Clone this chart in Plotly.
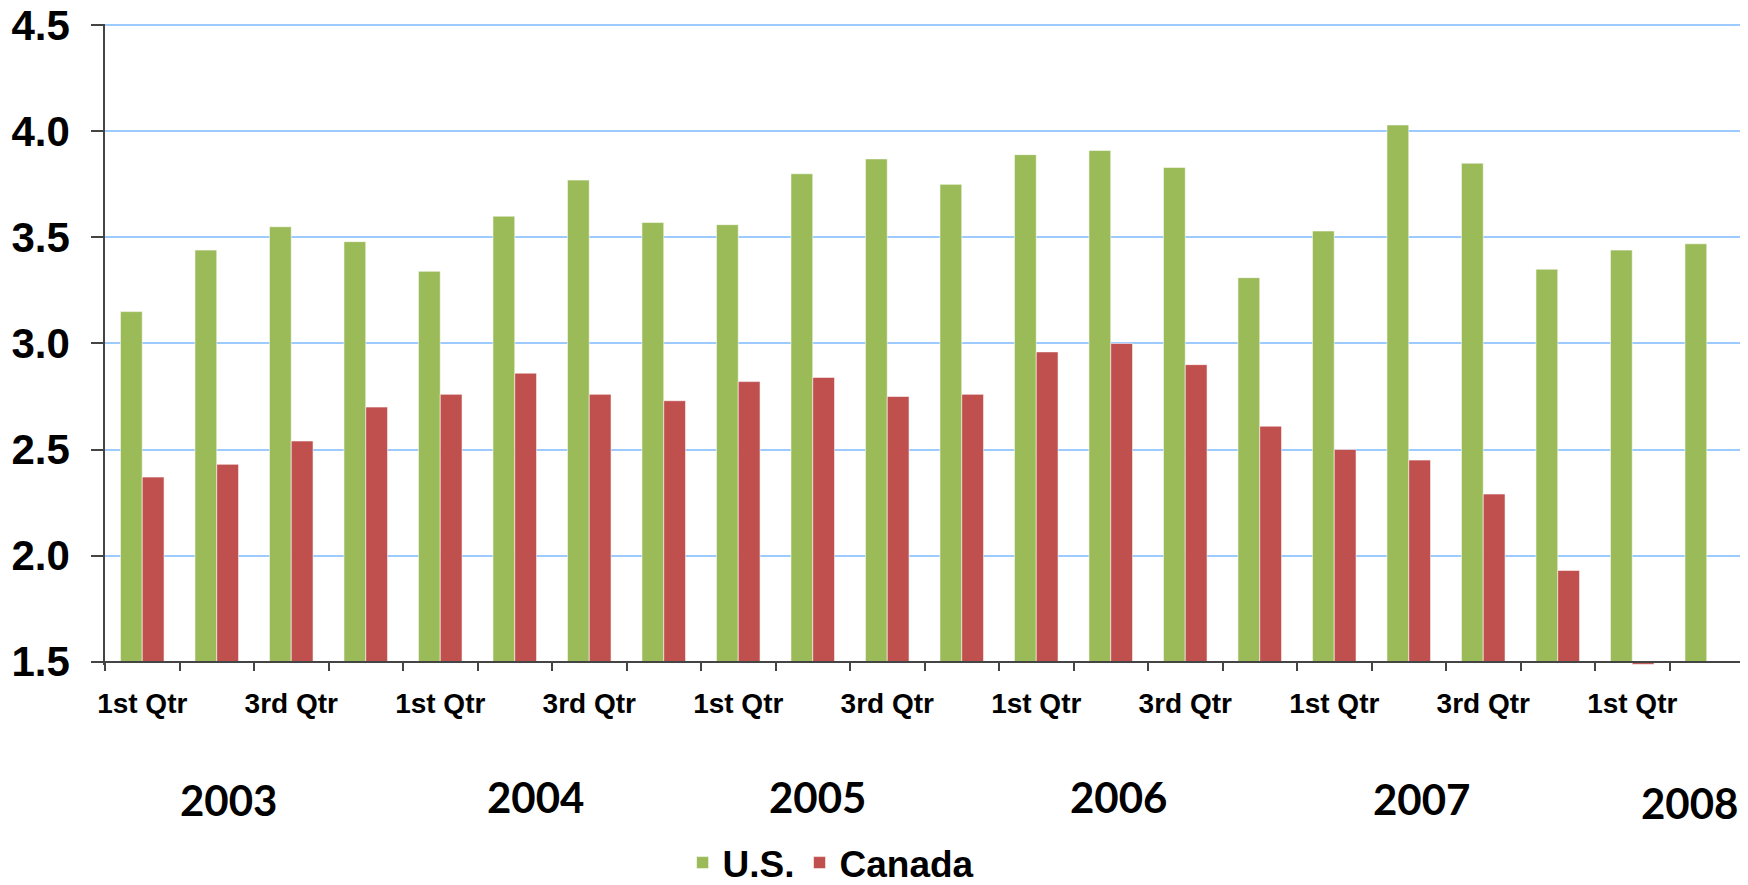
import plotly.graph_objects as go

# ---- data ----
quarters = ["2003 Q1", "2003 Q2", "2003 Q3", "2003 Q4",
            "2004 Q1", "2004 Q2", "2004 Q3", "2004 Q4",
            "2005 Q1", "2005 Q2", "2005 Q3", "2005 Q4",
            "2006 Q1", "2006 Q2", "2006 Q3", "2006 Q4",
            "2007 Q1", "2007 Q2", "2007 Q3", "2007 Q4",
            "2008 Q1", "2008 Q2"]
quarter_labels = ["1st Qtr", "", "3rd Qtr", ""] * 5 + ["1st Qtr", ""]
us = [3.15, 3.44, 3.55, 3.48, 3.34, 3.60, 3.77, 3.57, 3.56, 3.80, 3.87,
      3.75, 3.89, 3.91, 3.83, 3.31, 3.53, 4.03, 3.85, 3.35, 3.44, 3.47]
canada = [2.37, 2.43, 2.54, 2.70, 2.76, 2.86, 2.76, 2.73, 2.82, 2.84, 2.75,
          2.76, 2.96, 3.00, 2.90, 2.61, 2.50, 2.45, 2.29, 1.93, 1.487, None]
years = ["2003", "2004", "2005", "2006", "2007", "2008"]
year_x = [0.0751, 0.2624, 0.4345, 0.6181, 0.8030, 0.9666]
year_y = [-0.210, -0.206, -0.206, -0.206, -0.209, -0.215]

y_axis_base = 1.5
y_min, y_max = 1.484, 4.506

GREEN = "#9BBB59"
RED = "#C0504D"


def lengths(vals):
    return [None if v is None else v - y_axis_base for v in vals]


fig = go.Figure()
fig.add_trace(go.Bar(
    name="U.S.", x=quarters, y=lengths(us), base=y_axis_base,
    marker=dict(color=GREEN, line=dict(color="rgba(255,255,255,0.55)", width=1)),
    customdata=us, hovertemplate="%{x}: %{customdata}<extra>U.S.</extra>",
))
fig.add_trace(go.Bar(
    name="Canada", x=quarters, y=lengths(canada), base=y_axis_base,
    marker=dict(color=RED, line=dict(color="rgba(255,255,255,0.55)", width=1)),
    customdata=canada, hovertemplate="%{x}: %{customdata}<extra>Canada</extra>",
))

for t, xx, yy in zip(years, year_x, year_y):
    fig.add_annotation(text=t, x=xx, y=yy, xref="paper", yref="paper",
                       showarrow=False, xanchor="center", yanchor="middle",
                       font=dict(family="Lato, Open Sans", size=42,
                                 color="black", weight="bold"))

fig.update_layout(
    width=1748, height=885,
    margin=dict(l=97, r=12, t=16, b=228, autoexpand=False),
    paper_bgcolor="white", plot_bgcolor="white",
    barmode="group", bargap=0.415, bargroupgap=0,
    showlegend=True,
    legend=dict(orientation="h", x=0.443, xanchor="center", y=-0.309,
                yanchor="middle", itemwidth=30,
                font=dict(family="Liberation Sans, Arial", size=37,
                          color="black", weight="bold")),
    xaxis=dict(
        type="category", automargin=False,
        tickmode="array", tickvals=quarters, ticktext=quarter_labels,
        tickson="boundaries", ticks="outside", ticklen=9, tickwidth=1.5,
        tickcolor="#444", showgrid=False, tickangle=0,
        showline=True, linecolor="#444", linewidth=1.5,
        anchor="free",
        position=(y_axis_base - y_min) / (y_max - y_min),
        ticklabelstandoff=17, ticklabeloverflow="allow",
        tickfont=dict(family="Liberation Sans, Arial", size=28,
                      color="black", weight="bold"),
    ),
    yaxis=dict(
        automargin=False,
        range=[y_min, y_max], tickmode="array",
        tickvals=[1.5, 2.0, 2.5, 3.0, 3.5, 4.0, 4.5],
        ticktext=["1.5", "2.0", "2.5", "3.0", "3.5", "4.0", "4.5"],
        ticks="outside", ticklen=12, tickwidth=1.5, tickcolor="#444",
        showgrid=True, gridcolor="#9DCBFF", gridwidth=2,
        showline=True, linecolor="#444", linewidth=1.5,
        zeroline=False, ticklabelstandoff=13, ticklabeloverflow="allow",
        tickfont=dict(family="Liberation Sans, Arial", size=42,
                      color="black", weight="bold"),
    ),
)

fig.write_html("out.html")
